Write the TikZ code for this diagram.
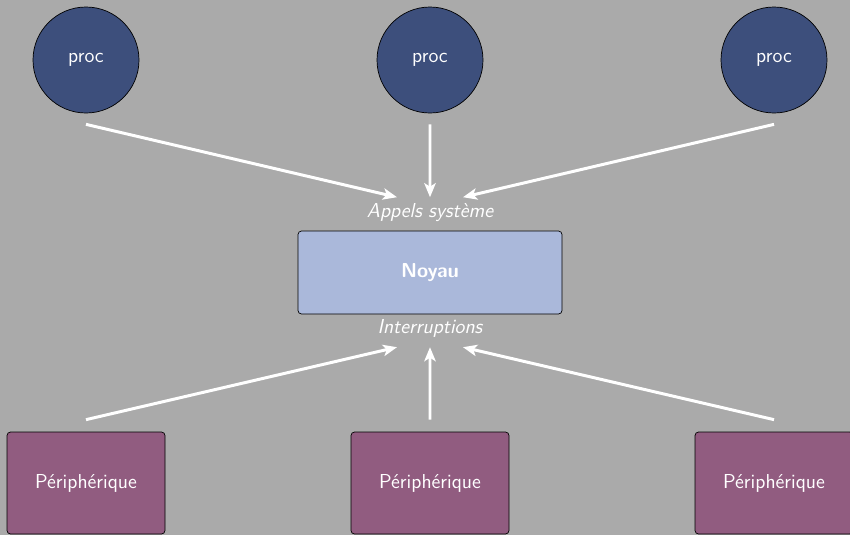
\documentclass[tikz,border=0pt]{standalone}
\usepackage{tikz}
\usetikzlibrary{arrows.meta,positioning}
\definecolor{fond}{RGB}{170,170,170}
\definecolor{procbleu}{RGB}{61,79,124}
\definecolor{noyaubleu}{RGB}{170,184,218}
\definecolor{periphviolet}{RGB}{145,92,128}
\tikzstyle{proc} = [circle, minimum size = 2.12cm, fill = procbleu, draw = black, text = white, font = \sffamily\fontsize{11.5}{14}\selectfont]
\tikzstyle{noyau} = [rectangle, rounded corners = 2pt, minimum width = 5.28cm, minimum height = 1.66cm, fill = noyaubleu, draw = black, text = white, font = \sffamily\bfseries\fontsize{11.5}{14}\selectfont]
\tikzstyle{periph} = [rectangle, rounded corners = 2pt, minimum width = 3.16cm, minimum height = 2.04cm, fill = periphviolet, draw = black, text = white, font = \sffamily\fontsize{11.5}{14}\selectfont]
\tikzstyle{etiquette} = [text = white, font = \sffamily\itshape\fontsize{11.5}{14}\selectfont]
\tikzstyle{fleche} = [draw = white, line width = 1.7pt, -{Stealth[length = 8pt, width = 6.5pt, inset = 2pt]}]

\begin{document}
\begin{tikzpicture}[node distance = 6.88cm]
        \clip (0,0) rectangle (17,-10.7);
        \fill [fond] (0,0) rectangle (17,-10.7);
        \node (p1) [proc] at (1.72,-1.2) {proc};
        \node (p2) [proc,right of=p1] {proc};
        \node (p3) [proc,right of=p2] {proc};
        \node (appels) [etiquette] at (8.6,-4.25) {Appels système};
        \node (noyau) [noyau] at (8.6,-5.45) {Noyau};
        \node (interr) [etiquette] at (8.6,-6.57) {Interruptions};
        \node (d1) [periph] at (1.72,-9.66) {Périphérique};
        \node (d2) [periph,right of=d1] {Périphérique};
        \node (d3) [periph,right of=d2] {Périphérique};
        \draw [fleche] ([yshift=-0.22cm]p1.south) -- ([xshift=-0.66cm]appels.north);
        \draw [fleche] ([yshift=-0.22cm]p2.south) -- (appels.north);
        \draw [fleche] ([yshift=-0.22cm]p3.south) -- ([xshift=0.66cm]appels.north);
        \draw [fleche] ([yshift=0.24cm]d1.north) -- ([xshift=-0.66cm,yshift=-0.07cm]interr.south);
        \draw [fleche] ([yshift=0.24cm]d2.north) -- ([yshift=-0.07cm]interr.south);
        \draw [fleche] ([yshift=0.24cm]d3.north) -- ([xshift=0.66cm,yshift=-0.07cm]interr.south);
    \end{tikzpicture}
\end{document}
